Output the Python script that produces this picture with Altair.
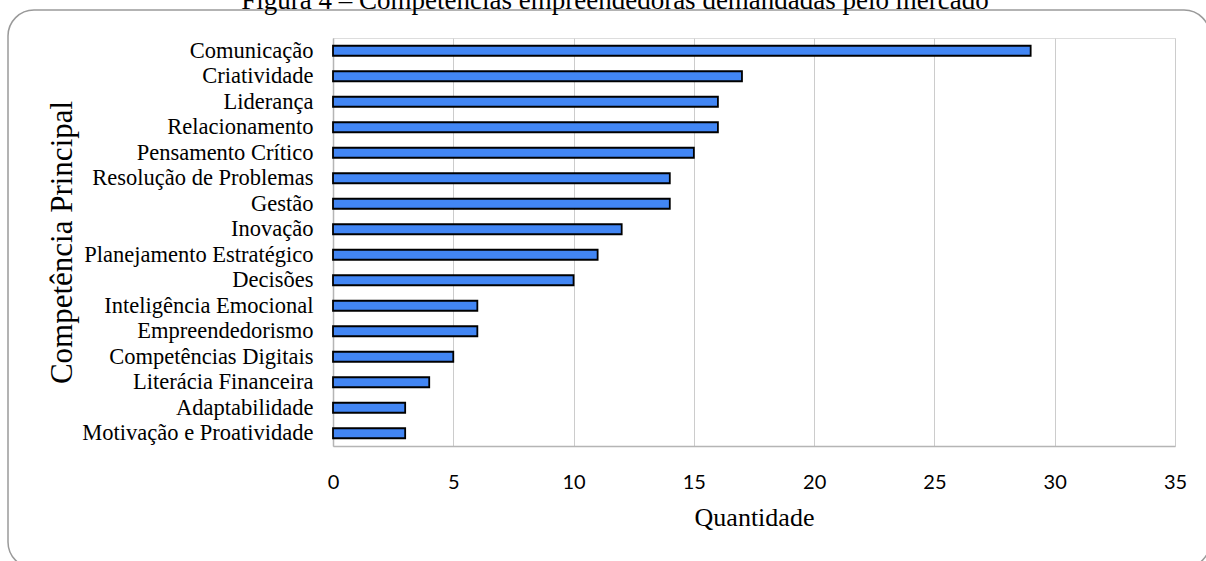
import altair as alt
import pandas as pd

categories = [
    "Comunicação", "Criatividade", "Liderança", "Relacionamento",
    "Pensamento Crítico", "Resolução de Problemas", "Gestão", "Inovação",
    "Planejamento Estratégico", "Decisões", "Inteligência Emocional ",
    "Empreendedorismo", "Competências  Digitais", "Literácia Financeira",
    "Adaptabilidade", "Motivação e Proatividade",
]
values = [29, 17, 16, 16, 15, 14, 14, 12, 11, 10, 6, 6, 5, 4, 3, 3]
x_ticks = [0, 5, 10, 15, 20, 25, 30, 35]
title_text = "Figura 4 – Competências empreendedoras demandadas pelo mercado"

df = pd.DataFrame({"cat": categories, "val": values})

serif = "Liberation Serif"

bars = alt.Chart(df).mark_bar(
    size=10, color="#4286f4", stroke="#000000", strokeWidth=1.8
).encode(
    x=alt.X("val:Q",
            scale=alt.Scale(domain=[0, 35], nice=False),
            axis=alt.Axis(values=x_ticks, title="Quantidade", grid=True,
                          gridColor="#cccccc", gridWidth=1,
                          domainColor="#b5b5b5", domainWidth=1.5,
                          ticks=False, labelPadding=26, labelFlush=False,
                          labelFont="Lato", labelFontSize=20, labelColor="#000",
                          titleFont=serif, titleFontSize=26, titleFontWeight="normal",
                          titleColor="#000", titlePadding=12)),
    y=alt.Y("cat:N", sort=categories,
            scale=alt.Scale(paddingInner=0.6, paddingOuter=0.3),
            axis=alt.Axis(title="Competência Principal", ticks=False,
                          domainColor="#b5b5b5", domainWidth=1.5,
                          labelPadding=20, labelFont=serif, labelFontSize=22.5,
                          labelColor="#000", labelLimit=400,
                          titleFont=serif, titleFontSize=31, titleFontWeight="normal",
                          titleColor="#000", titleAngle=270,
                          titleX=-271, titleY=204,
                          titleAlign="center", titleBaseline="middle")),
)

frame = alt.Chart(pd.DataFrame({"a": [0]})).mark_rect(
    fill=None, fillOpacity=0, stroke="#9a9a9a", strokeWidth=1.5, cornerRadius=26
).encode(
    x=alt.value(-325), x2=alt.value(877),
    y=alt.value(-28), y2=alt.value(530),
)

title = alt.Chart(pd.DataFrame({"t": [title_text]})).mark_text(
    font=serif, fontSize=27, color="#000", baseline="alphabetic", align="center"
).encode(
    text="t:N", x=alt.value(282), y=alt.value(-29),
)

chart = alt.layer(frame, bars, title).properties(
    width=842, height=408,
    autosize=alt.AutoSizeParams(type="none"),
    padding={"left": 333, "top": 38, "right": 31, "bottom": 115},
).configure_view(stroke=None).configure(background="#ffffff")

chart.save("out.html", embed_options={"renderer": "svg", "actions": False})
